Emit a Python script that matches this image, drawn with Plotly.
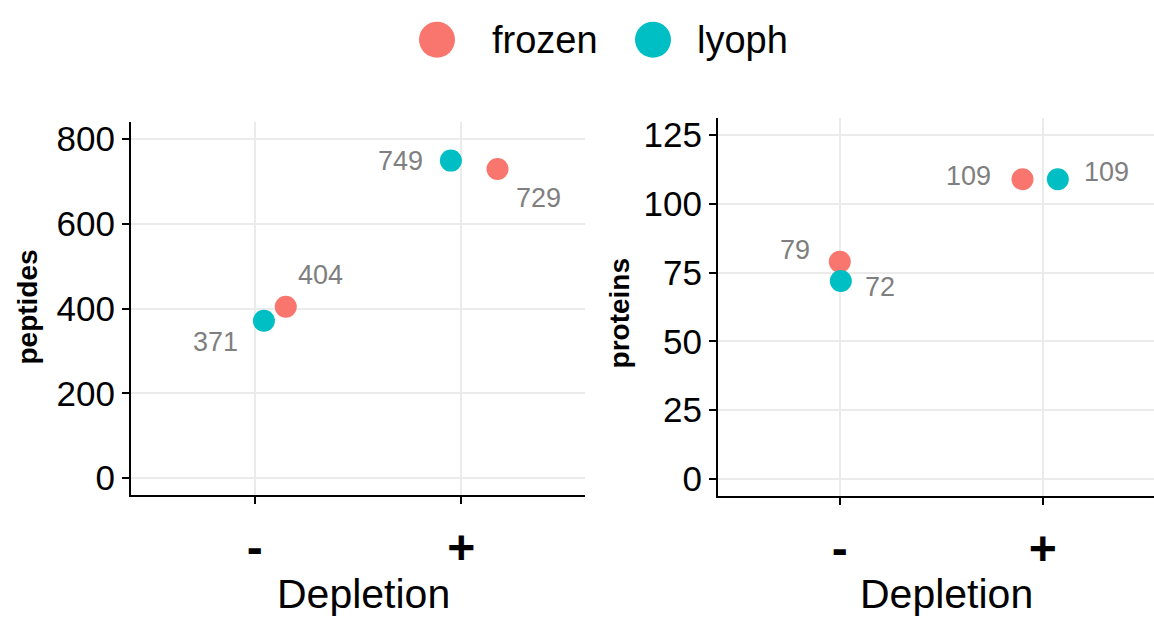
import plotly.graph_objects as go

# ---- data ----
depletion = ["-", "+"]
groups = ["frozen", "lyoph"]
peptides_frozen = [404, 729]
peptides_lyoph = [371, 749]
proteins_frozen = [79, 109]
proteins_lyoph = [72, 109]
# horizontal jitter (in category units) as drawn in the reference
jitter_pep_frozen = [0.15, 0.176]
jitter_pep_lyoph = [0.044, -0.05]
jitter_pro_frozen = [0.0, -0.10]
jitter_pro_lyoph = [0.005, 0.074]

colors = {"frozen": "#F8766D", "lyoph": "#00BFC4"}
FONT = "Liberation Sans, Arial, sans-serif"
W, H = 1154, 619

cat_pos = [i + 1 for i in range(len(depletion))]

fig = go.Figure()

def add_points(vals, jit, grp, xa, ya):
    xs = [c + j for c, j in zip(cat_pos, jit)]
    fig.add_trace(go.Scatter(
        x=xs, y=vals, mode="markers", name=grp, showlegend=False,
        marker=dict(size=22, color=colors[grp]), xaxis=xa, yaxis=ya))
    return xs

xs_pf = add_points(peptides_frozen, jitter_pep_frozen, "frozen", "x", "y")
xs_pl = add_points(peptides_lyoph, jitter_pep_lyoph, "lyoph", "x", "y")
xs_rf = add_points(proteins_frozen, jitter_pro_frozen, "frozen", "x2", "y2")
xs_rl = add_points(proteins_lyoph, jitter_pro_lyoph, "lyoph", "x2", "y2")

# label offsets (pixels) mimicking ggrepel placement
label_offsets = {
    ("pep", "frozen"): [(35, 32), (41, -29)],
    ("pep", "lyoph"): [(-48, -21), (-50, 0)],
    ("pro", "frozen"): [(-45, 12), (-54, 3)],
    ("pro", "lyoph"): [(39, -6), (49, 7)],
}

annotations = []
def add_labels(xs, vals, key, xr, yr):
    for x, v, (dx, dy) in zip(xs, vals, label_offsets[key]):
        annotations.append(dict(
            x=x, y=v, xref=xr, yref=yr, text=str(v), showarrow=False,
            xshift=dx, yshift=dy, font=dict(family=FONT, size=27, color="#7f7f7f")))

add_labels(xs_pf, peptides_frozen, ("pep", "frozen"), "x", "y")
add_labels(xs_pl, peptides_lyoph, ("pep", "lyoph"), "x", "y")
add_labels(xs_rf, proteins_frozen, ("pro", "frozen"), "x2", "y2")
add_labels(xs_rl, proteins_lyoph, ("pro", "lyoph"), "x2", "y2")

# axis titles
for xr, yr, ytitle, ytx, yty in [("x", "y", "peptides", 28, 307), ("x2", "y2", "proteins", 619, 313)]:
    annotations.append(dict(
        x=1.5, xref=xr, y=0, yref="paper", text="Depletion",
        showarrow=False, yanchor="bottom", xshift=5, yshift=-2,
        font=dict(family=FONT, size=41, color="black")))
    annotations.append(dict(
        x=ytx / W, xref="paper", y=1 - yty / H, yref="paper", text="<b>%s</b>" % ytitle,
        showarrow=False, textangle=-90, xanchor="center", yanchor="middle",
        font=dict(family=FONT, size=28, color="black")))

# legend (drawn manually to match large key size)
shapes = []
leg_items = [("frozen", 437, 490), ("lyoph", 653, 695)]
for grp, cx, tx in leg_items:
    shapes.append(dict(
        type="circle", xref="paper", yref="paper", xsizemode="pixel", ysizemode="pixel",
        xanchor=cx / W, yanchor=1 - 37 / H, x0=-18, x1=18, y0=-18, y1=18,
        fillcolor=colors[grp], line=dict(width=0)))
    annotations.append(dict(
        x=tx / W, y=1 - 37 / H, xref="paper", yref="paper", text=grp,
        showarrow=False, xanchor="left", yanchor="middle",
        font=dict(family=FONT, size=38, color="black")))

axis_common = dict(
    showline=True, linecolor="black", linewidth=2,
    ticks="outside", ticklen=7, tickwidth=2, tickcolor="black",
    showgrid=True, gridcolor="#ebebeb", gridwidth=2, zeroline=False,
    tickfont=dict(family=FONT, size=35, color="black"),
)

xtick = dict(tickmode="array", tickvals=cat_pos,
             ticktext=["<b>%s</b>" % d for d in depletion],
             tickfont=dict(family=FONT, size=48, color="black"),
             ticklabelstandoff=2)

fig.update_layout(
    width=W, height=H,
    margin=dict(l=0, r=0, t=0, b=0),
    plot_bgcolor="white", paper_bgcolor="white",
    showlegend=False,
    xaxis=dict(domain=[131 / W, 585 / W], range=[0.4, 2.6], anchor="y",
               **{k: v for k, v in axis_common.items() if k != "tickfont"}, **xtick),
    yaxis=dict(domain=[1 - 496 / H, 1 - 120 / H], range=[-40, 840], anchor="x",
               tickvals=[0, 200, 400, 600, 800], **axis_common),
    xaxis2=dict(domain=[718 / W, 1.0], range=[0.4, 0.4 + 436 / 203], anchor="y2",
                **{k: v for k, v in axis_common.items() if k != "tickfont"}, **xtick),
    yaxis2=dict(domain=[1 - 497 / H, 1 - 116 / H], range=[-6.25, 131.25], anchor="x2",
                tickvals=[0, 25, 50, 75, 100, 125], **axis_common),
    annotations=annotations,
    shapes=shapes,
)

fig.write_html("out.html")
